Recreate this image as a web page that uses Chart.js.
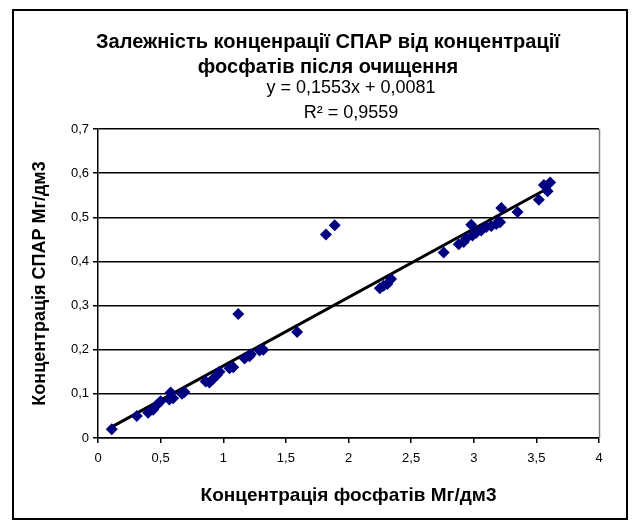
<!DOCTYPE html>
<html>
<head>
<meta charset="utf-8">
<script src="https://cdn.jsdelivr.net/npm/chart.js@4.4.1/dist/chart.umd.min.js"></script>
<style>
  html, body { margin: 0; padding: 0; background: #fff; }
  #wrap { width: 640px; height: 528px; }
</style>
</head>
<body>
<div id="wrap"><canvas id="chart" width="640" height="528"></canvas></div>
<script>
// Phosphate concentration (x) vs surfactant concentration (y)
const phosphates = [0.11, 0.31, 0.40, 0.44, 0.47, 0.50, 0.57, 0.58, 0.60, 0.67, 0.69,
  0.86, 0.89, 0.92, 0.95, 0.97, 1.05, 1.08, 1.12, 1.17, 1.21, 1.22, 1.29, 1.32, 1.59,
  1.82, 1.89, 2.25, 2.28, 2.31, 2.34, 2.76, 2.88, 2.92, 2.94, 2.98, 2.99, 3.02, 3.06,
  3.10, 3.14, 3.18, 3.20, 3.21, 3.22, 3.35, 3.52, 3.56, 3.59, 3.61];
const surfactants = [0.02, 0.05, 0.057, 0.064, 0.075, 0.083, 0.087, 0.103, 0.09, 0.1, 0.104,
  0.128, 0.126, 0.134, 0.143, 0.15, 0.158, 0.16, 0.281, 0.18, 0.185, 0.19, 0.198, 0.2, 0.24,
  0.461, 0.482, 0.339, 0.345, 0.349, 0.36, 0.42, 0.439, 0.444, 0.452, 0.483, 0.459, 0.465, 0.47,
  0.478, 0.48, 0.485, 0.491, 0.489, 0.521, 0.512, 0.54, 0.573, 0.559, 0.579];

// Linear trendline as printed on the chart
const slope = 0.1553;
const intercept = 0.0081;
const rSquared = '0,9559';

const titleLines = ['Залежність конценрації СПАР від концентрації', 'фосфатів після очищення'];
const xTitle = 'Концентрація фосфатів Мг/дм3';
const yTitle = 'Концентрація СПАР Мг/дм3';

const FONT = '"Liberation Sans", Arial, sans-serif';

const points = phosphates.map((x, i) => ({ x: x, y: surfactants[i] }));
const xMin = Math.min(...phosphates);
const xMax = Math.max(...phosphates);
const trend = [xMin, xMax].map(x => ({ x: x, y: slope * x + intercept }));

const fmt = v => String(Math.round(v * 10) / 10).replace('.', ',');

// Frame, title and trendline label
const decorations = {
  id: 'decorations',
  afterDraw(chart) {
    const ctx = chart.ctx;
    const area = chart.chartArea;
    ctx.save();
    ctx.strokeStyle = '#808080';
    ctx.lineWidth = 1.5;
    ctx.beginPath();
    ctx.moveTo(area.right + 0.5, area.top);
    ctx.lineTo(area.right + 0.5, area.bottom);
    ctx.stroke();

    ctx.strokeStyle = '#000';
    ctx.lineWidth = 2;
    ctx.strokeRect(13, 10, 614, 509);

    ctx.fillStyle = '#000';
    ctx.textAlign = 'center';
    ctx.textBaseline = 'middle';
    ctx.font = 'bold 20px ' + FONT;
    ctx.fillText(titleLines[0], 328, 42);
    ctx.fillText(titleLines[1], 328, 67);
    ctx.font = '18px ' + FONT;
    ctx.fillText('y = ' + String(slope).replace('.', ',') + 'x + ' + String(intercept).replace('.', ','), 351, 88);
    ctx.fillText('R² = ' + rSquared, 351, 113);
    ctx.restore();
  }
};

new Chart(document.getElementById('chart'), {
  type: 'scatter',
  data: {
    datasets: [
      {
        label: 'data',
        data: points,
        pointStyle: 'rectRot',
        pointRadius: 6,
        pointHoverRadius: 6,
        backgroundColor: '#000080',
        borderColor: '#000080',
        borderWidth: 0
      },
      {
        label: 'trend',
        type: 'line',
        data: trend,
        borderColor: '#000',
        borderWidth: 3,
        pointRadius: 0,
        fill: false
      }
    ]
  },
  options: {
    responsive: false,
    animation: false,
    events: [],
    layout: { padding: { left: 12, right: 41, top: 129, bottom: 20 } },
    plugins: {
      legend: { display: false },
      tooltip: { enabled: false }
    },
    scales: {
      x: {
        type: 'linear',
        min: 0,
        max: 4,
        afterFit: s => { s.height = 70; },
        ticks: {
          stepSize: 0.5,
          color: '#000',
          font: { family: FONT, size: 13 },
          padding: 8,
          callback: v => fmt(v)
        },
        grid: { drawOnChartArea: false, color: '#000', lineWidth: 1.5, tickLength: 5 },
        border: { color: '#000', width: 1.5 },
        title: {
          display: true,
          text: xTitle,
          color: '#000',
          font: { family: FONT, size: 19, weight: 'bold' },
          padding: { top: 0, bottom: 1 }
        }
      },
      y: {
        min: 0,
        max: 0.7,
        afterFit: s => { s.width = 86; },
        ticks: {
          stepSize: 0.1,
          color: '#000',
          font: { family: FONT, size: 13 },
          padding: 4,
          callback: v => fmt(v)
        },
        grid: { color: '#000', lineWidth: 1.5, tickLength: 5 },
        border: { color: '#000', width: 1.5 },
        title: {
          display: true,
          text: yTitle,
          color: '#000',
          font: { family: FONT, size: 18, weight: 'bold' },
          padding: { top: 17, bottom: 0 }
        }
      }
    }
  },
  plugins: [decorations]
});
</script>
</body>
</html>
